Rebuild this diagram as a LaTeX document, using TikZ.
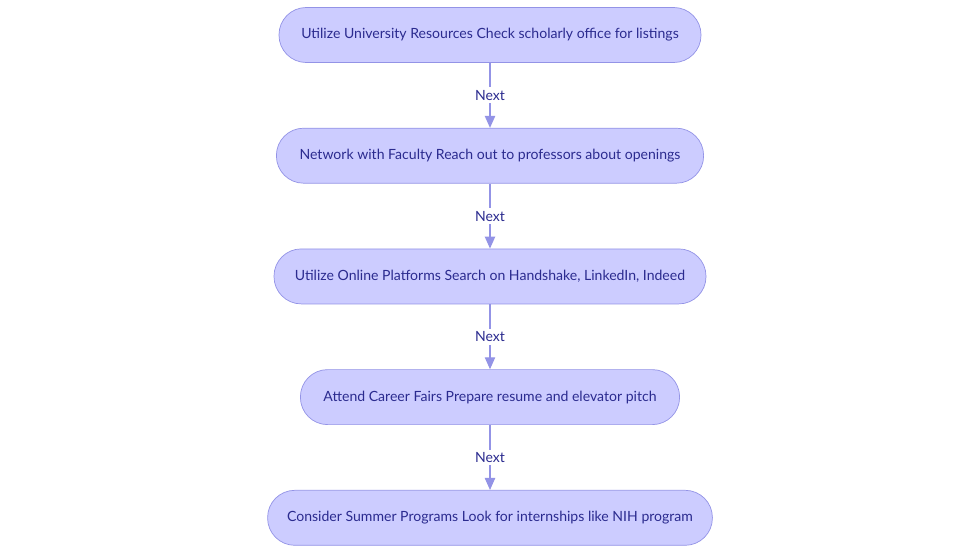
\documentclass[tikz,border=0pt]{standalone}
\usepackage{fontspec}
\setmainfont{Lato}
\usetikzlibrary{positioning,arrows.meta}
\definecolor{stepfill}{HTML}{CCCCFF}
\definecolor{stepdraw}{HTML}{9393E6}
\definecolor{steptext}{HTML}{2B2B8F}
\begin{document}
\begin{tikzpicture}[
    node distance=1.625cm,
    >={Triangle[length=3mm,width=2.6mm]},
    font=\fontsize{10}{12}\selectfont,
    stage/.style={
		rectangle,
		rounded corners=0.68cm,
		draw=stepdraw,
		line width=0.5pt,
		fill=stepfill,
		text=steptext,
		text centered,
		minimum height=1.375cm
	},
	next/.style={
		fill=white,
		text=steptext,
		inner sep=2pt
	},
	link/.style={
		draw=stepdraw,
		line width=0.8pt,
		->
	}
  ]
 \useasboundingbox (0,0) rectangle (24.5,-13.825);

 \node [stage, minimum width=10.55cm] (resources) at (12.25,-0.875)
 {Utilize University Resources Check scholarly office for listings};
 \node [stage, minimum width=10.68cm, below=of resources] (faculty)
 {Network with Faculty Reach out to professors about openings};
 \node [stage, minimum width=10.8cm, below=of faculty] (online)
 {Utilize Online Platforms Search on Handshake, LinkedIn, Indeed};
 \node [stage, minimum width=9.48cm, below=of online] (fairs)
 {Attend Career Fairs Prepare resume and elevator pitch};
 \node [stage, minimum width=11.12cm, below=of fairs] (summer)
 {Consider Summer Programs Look for internships like NIH program};

% // arrows
 \foreach \a/\b in {resources/faculty, faculty/online, online/fairs, fairs/summer}
   \draw [link] (\a) to node [next] {Next} (\b);

\end{tikzpicture}
\end{document}
